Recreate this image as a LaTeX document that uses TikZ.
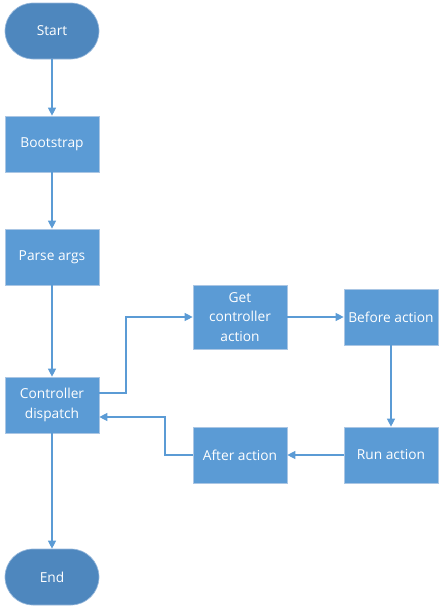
\documentclass[tikz,border=0pt]{standalone}
\usepackage{tikz}
\usepackage{fontspec}
\usepackage{xcolor}
\usetikzlibrary{arrows.meta}
\setmainfont{Open Sans}
\definecolor{flowblue}{RGB}{91,155,213}
\definecolor{termblue}{RGB}{78,135,190}
\definecolor{edgeblue}{RGB}{170,198,228}

\begin{document}
\begin{tikzpicture}[x=0.75pt,y=-0.75pt,
    stepbox/.style={draw=edgeblue,line width=0.5pt,fill=flowblue,text=white,
        minimum width=70.5pt,minimum height=42pt,align=center,inner sep=1pt,
        font=\fontsize{10.3}{14.6}\selectfont},
    termbox/.style={stepbox,fill=termblue,draw=edgeblue!80!termblue,rounded corners=21pt},
    flow/.style={draw=flowblue,line width=0.8pt,-{Triangle[width=6pt,length=6pt]}}]
    \useasboundingbox (0,0) rectangle (444,614);

    % Main column
    \node[termbox] (start) at (52,31) {Start};
    \node[stepbox] (bootstrap) at (52,144) {Bootstrap};
    \node[stepbox] (parse) at (52,257) {Parse args};
    \node[stepbox] (dispatch) at (52,405) {Controller\\dispatch};
    \node[termbox] (end) at (52,577) {End};

    % Action loop
    \node[stepbox,minimum height=48pt] (getaction) at (240,317) {Get\\controller\\action};
    \node[stepbox] (before) at (391,317) {Before action};
    \node[stepbox] (run) at (391,455) {Run action};
    \node[stepbox] (after) at (240,455) {After action};

    % Connectors
    \draw[flow] (start) -- (bootstrap);
    \draw[flow] (bootstrap) -- (parse);
    \draw[flow] (parse) -- (dispatch);
    \draw[flow] (dispatch) -- (end);
    \draw[flow] (dispatch.east |- 0,393) -- (126,393) |- (getaction.west);
    \draw[flow] (getaction) -- (before);
    \draw[flow] (before) -- (run);
    \draw[flow] (run) -- (after);
    \draw[flow] (after.west) -| (165,417) -- (dispatch.east |- 0,417);
\end{tikzpicture}
\end{document}
